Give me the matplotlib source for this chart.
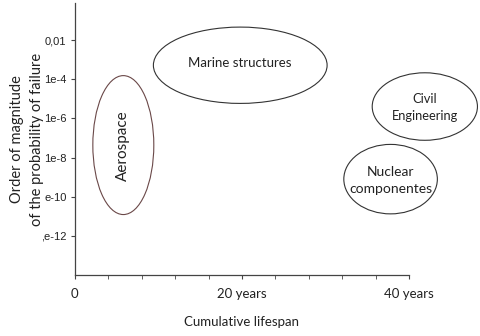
import matplotlib.pyplot as plt
from matplotlib.patches import Ellipse

# regions: label, centre (years, log10 p), width (years), height (decades)
labels = ['Aerospace', 'Marine structures', 'Civil\nEngineering', 'Nuclear\ncomponentes']
cx = [5.8, 19.8, 41.9, 37.8]
cy = [-7.36, -3.28, -5.39, -9.1]
widths = [7.3, 20.8, 12.6, 11.2]
heights = [7.1, 3.9, 3.45, 3.55]
rotations = [90, 0, 0, 0]

ytick_pos = [-2, -4, -6, -8, -10, -12]
ytick_labels = ['0,01', '1e-4', '1e-6', '1e-8', 'e-10', ',e-12']
xtick_pos = [0, 20, 40]
xtick_labels = ['0', '20 years', '40 years']

plt.rcParams['font.family'] = ['Lato', 'DejaVu Sans']

fig = plt.figure(figsize=(4.8, 3.36), dpi=100)
ax = fig.add_axes([0.156, 0.1815, 0.696, 0.8095])

edge_cols = ['#6a4848', '#333333', '#333333', '#333333']
sizes = [11, 9.5, 9.3, 10.0]
for i, lab in enumerate(labels):
    e = Ellipse((cx[i], cy[i]), widths[i], heights[i], fill=False,
                edgecolor=edge_cols[i], linewidth=0.8, clip_on=False)
    ax.add_patch(e)
    ax.text(cx[i], cy[i] + (0.1 if i == 1 else -0.05), lab, rotation=rotations[i],
            ha='center', va='center', fontsize=sizes[i], color='#222222',
            linespacing=1.5)

ax.set_xlim(0, 40)
ax.set_ylim(-14, -0.1)
ax.spines['top'].set_visible(False)
ax.spines['right'].set_visible(False)
for s in ['left', 'bottom']:
    ax.spines[s].set_color('#444444')
    ax.spines[s].set_linewidth(0.9)

ax.set_xticks(range(0, 41, 4), minor=True)
ax.set_xticks(xtick_pos)
ax.set_xticklabels(xtick_labels, fontsize=9.5)
ax.set_yticks(ytick_pos)
ax.set_yticklabels(ytick_labels, fontsize=8, family='Liberation Sans')
ax.tick_params(axis='both', which='both', direction='out', length=3,
               color='#444444', labelcolor='#222222')
ax.tick_params(axis='x', pad=6)
ax.tick_params(axis='y', pad=3)

ax.set_xlabel('Cumulative lifespan', fontsize=9.5, labelpad=12, color='#222222')
ax.set_ylabel('Order of magnitude\nof the probability of failure', fontsize=10.5,
              color='#222222', linespacing=1.6)
ax.yaxis.set_label_coords(-0.092, 0.5)

fig.savefig('out.png', dpi=100)
